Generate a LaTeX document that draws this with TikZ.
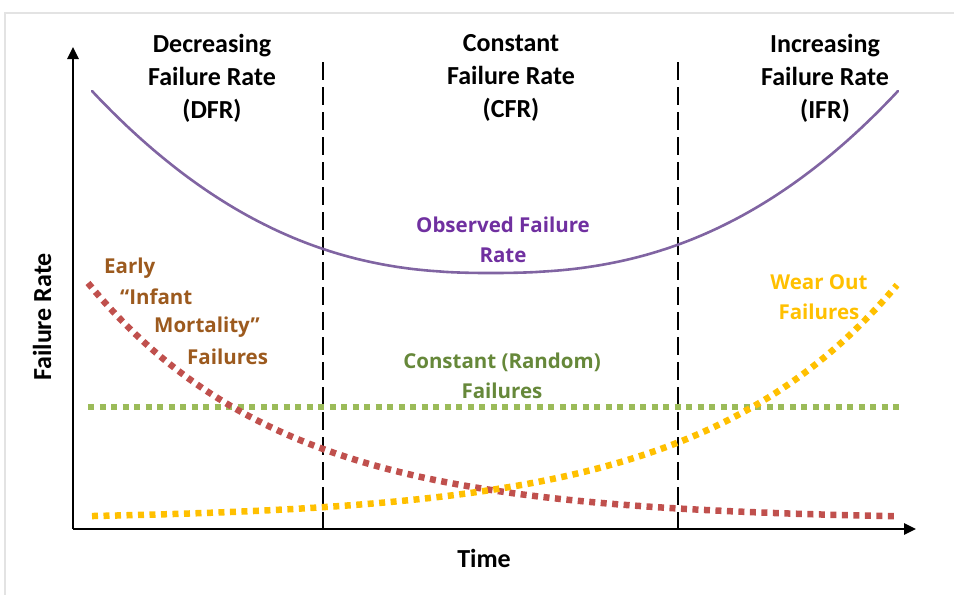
\documentclass[tikz,border=0pt]{standalone}
\usepackage{fontspec}
\setmainfont{Carlito}
\newfontfamily\lblfont{Open Sans}
\usetikzlibrary{arrows.meta}

\definecolor{obsline}{HTML}{8064A2}
\definecolor{obstext}{HTML}{7030A0}
\definecolor{infline}{HTML}{C0504D}
\definecolor{inftext}{HTML}{9C5A1E}
\definecolor{rndline}{HTML}{9BBB59}
\definecolor{rndtext}{HTML}{66883A}
\definecolor{wearcol}{HTML}{FFC000}
\definecolor{framegray}{HTML}{E3E3E3}

\tikzset{
  axis/.style={line width=2.6pt, -{Triangle[length=12pt,width=11pt]}},
  divider/.style={line width=2pt, dash pattern=on 18pt off 7pt},
  dotline/.style={line width=6.5pt, dash pattern=on 6pt off 5.5pt},
  header/.style={font=\bfseries\fontsize{26}{33}\selectfont, align=center, text=black},
  axistitle/.style={font=\bfseries\fontsize{26}{30}\selectfont},
  curvelabel/.style={font=\lblfont\bfseries\fontsize{20.5}{30}\selectfont, inner sep=0pt},
}

\begin{document}
\begin{tikzpicture}[x=1pt, y=-1pt]
  \useasboundingbox (0,0) rectangle (954,595);
  % light page frame
  \draw[framegray, line width=2.5pt] (5,595) -- (5,13) -- (954,13);

  % axes
  \coordinate (origin) at (73,529);
  \coordinate (ytip) at (73,47);
  \coordinate (xtip) at (916,529);
  \draw[axis] (origin) -- (ytip);
  \draw[axis] (origin) -- (xtip);

  % region dividers
  \coordinate (d1top) at (323,62);
  \coordinate (d1bot) at (323,529);
  \coordinate (d2top) at (678,62);
  \coordinate (d2bot) at (678,529);
  \draw[divider] (d1top) -- (d1bot);
  \draw[divider] (d2top) -- (d2bot);

  % constant (random) failures
  \coordinate (rndA) at (88,407);
  \coordinate (rndB) at (902,407);
  \draw[dotline, rndline] (rndA) -- (rndB);

  % early "infant mortality" failures
  \draw[dotline, infline] plot[domain=88:897, samples=120]
    (\x, {520-237*exp(-0.00513*(\x-88))});

  % wear out failures
  \draw[dotline, wearcol] plot[domain=92:897, samples=120]
    (\x, {520-235*exp(-0.00507*(897-\x))});

  % observed failure rate (bathtub curve), two power-law branches
  \draw[obsline, line width=2.6pt, line cap=round]
    plot[domain=92:490, samples=80] (\x, {273-182*((490.01-\x)/398)^2.33})
    -- plot[domain=490:898, samples=80] (\x, {273-182*((\x-489.99)/408)^2.4});

  % region headers
  \node[header] (dfr) at (212,78) {Decreasing\\Failure Rate\\(DFR)};
  \node[header] (cfr) at (511,78) {Constant\\Failure Rate\\(CFR)};
  \node[header] (ifr) at (825,78) {Increasing\\Failure Rate\\(IFR)};

  % curve labels
  \node[curvelabel, text=obstext, align=center] (obs) at (503,240) {Observed Failure\\Rate};
  \node[curvelabel, text=rndtext, align=center] (rnd) at (502,376) {Constant (Random)\\Failures};
  \node[curvelabel, text=wearcol, align=center] (wear) at (819,297) {Wear Out\\Failures};
  \node[curvelabel, text=inftext, anchor=west] (inf1) at (104,268) {Early};
  \node[curvelabel, text=inftext, anchor=west] (inf2) at (120,297) {“Infant};
  \node[curvelabel, text=inftext, anchor=west] (inf3) at (154,327) {Mortality”};
  \node[curvelabel, text=inftext, anchor=west] (inf4) at (187,357) {Failures};

  % axis titles
  \node[axistitle, rotate=90] (ylab) at (42,317) {Failure Rate};
  \node[axistitle] (xlab) at (484,558) {Time};
\end{tikzpicture}
\end{document}
